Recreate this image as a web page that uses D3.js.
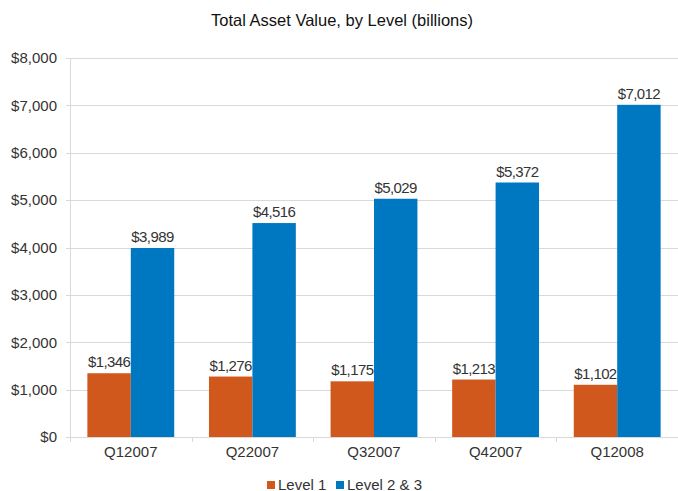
<!DOCTYPE html>
<html>
<head>
<meta charset="utf-8">
<script src="https://cdn.jsdelivr.net/npm/d3@7"></script>
<style>
  body { margin: 0; background: #fff; }
  svg { font-family: "Liberation Sans", Arial, Helvetica, sans-serif; }
</style>
</head>
<body>
<svg id="chart" width="678" height="491"></svg>
<script>
'use strict';

const quarters = ['Q12007', 'Q22007', 'Q32007', 'Q42007', 'Q12008'];
const seriesNames = ['Level 1', 'Level 2 & 3'];
const level1 = [1346, 1276, 1175, 1213, 1102];
const level23 = [3989, 4516, 5029, 5372, 7012];
const yTicks = [0, 1000, 2000, 3000, 4000, 5000, 6000, 7000, 8000];

const colours = ['#d0581c', '#0077c1'];
const textColour = '#333';

const svg = d3.select('#chart');
const margin = { top: 58, right: 0, bottom: 54, left: 70 };
const width = 678 - margin.left - margin.right;
const height = 491 - margin.top - margin.bottom;

const g = svg.append('g').attr('transform', `translate(${margin.left},${margin.top})`);

const x = d3.scaleBand().domain(quarters).range([0, width]).paddingInner(0).paddingOuter(0);
const xInner = d3.scaleBand().domain(seriesNames).range([0, x.bandwidth()]).paddingInner(0).paddingOuter(0.4);
const y = d3.scaleLinear().domain([0, 8000]).range([height, 0]);

const fmt = d3.format('$,');

// title
svg.append('text')
  .attr('x', 342).attr('y', 26)
  .attr('text-anchor', 'middle')
  .attr('font-size', 16.5)
  .attr('fill', '#111')
  .text('Total Asset Value, by Level (billions)');

// gridlines
g.append('g').selectAll('line')
  .data(yTicks)
  .join('line')
  .attr('x1', -4).attr('x2', width)
  .attr('y1', d => Math.round(y(d)) + 0.5).attr('y2', d => Math.round(y(d)) + 0.5)
  .attr('stroke', '#d9d9d9');

// y labels
g.append('g').selectAll('text')
  .data(yTicks)
  .join('text')
  .attr('x', -13).attr('y', d => y(d))
  .attr('dy', '0.35em')
  .attr('text-anchor', 'end')
  .attr('font-size', 15)
  .attr('fill', textColour)
  .text(d => fmt(d));

// y axis line
g.append('line')
  .attr('x1', 0.5).attr('x2', 0.5).attr('y1', 0).attr('y2', height)
  .attr('stroke', '#d9d9d9');

// x category ticks
const boundaries = quarters.map(q => x(q)).concat([width]);
g.append('g').selectAll('line')
  .data(boundaries)
  .join('line')
  .attr('x1', d => Math.round(d) + 0.5).attr('x2', d => Math.round(d) + 0.5)
  .attr('y1', height).attr('y2', height + 5)
  .attr('stroke', '#d9d9d9');

// x labels
g.append('g').selectAll('text')
  .data(quarters)
  .join('text')
  .attr('x', d => x(d) + x.bandwidth() / 2)
  .attr('y', height + 20)
  .attr('text-anchor', 'middle')
  .attr('font-size', 15)
  .attr('fill', textColour)
  .text(d => d);

// bars
const rows = quarters.map((q, i) => ({ q, values: [level1[i], level23[i]] }));
const groups = g.append('g').selectAll('g')
  .data(rows)
  .join('g')
  .attr('transform', d => `translate(${x(d.q)},0)`);

groups.selectAll('rect')
  .data(d => d.values.map((v, j) => ({ name: seriesNames[j], v, j })))
  .join('rect')
  .attr('x', d => xInner(d.name))
  .attr('width', xInner.bandwidth())
  .attr('y', d => y(d.v))
  .attr('height', d => height - y(d.v))
  .attr('fill', d => colours[d.j]);

groups.selectAll('text')
  .data(d => d.values.map((v, j) => ({ name: seriesNames[j], v, j })))
  .join('text')
  .attr('x', d => xInner(d.name) + xInner.bandwidth() / 2)
  .attr('y', d => y(d.v) - 6)
  .attr('text-anchor', 'middle')
  .attr('font-size', 15)
  .attr('letter-spacing', -0.6)
  .attr('fill', textColour)
  .text(d => fmt(d.v));

// legend
const legend = svg.append('g').attr('transform', 'translate(267,485)');
const items = [{ name: seriesNames[0], dx: 0 }, { name: seriesNames[1], dx: 69 }];
items.forEach((it, j) => {
  legend.append('rect')
    .attr('x', it.dx).attr('y', -4)
    .attr('width', 8).attr('height', 8)
    .attr('fill', colours[j]);
  legend.append('text')
    .attr('x', it.dx + 11).attr('y', 0)
    .attr('dy', '0.35em')
    .attr('font-size', 15)
    .attr('fill', textColour)
    .text(it.name);
});
</script>
</body>
</html>
